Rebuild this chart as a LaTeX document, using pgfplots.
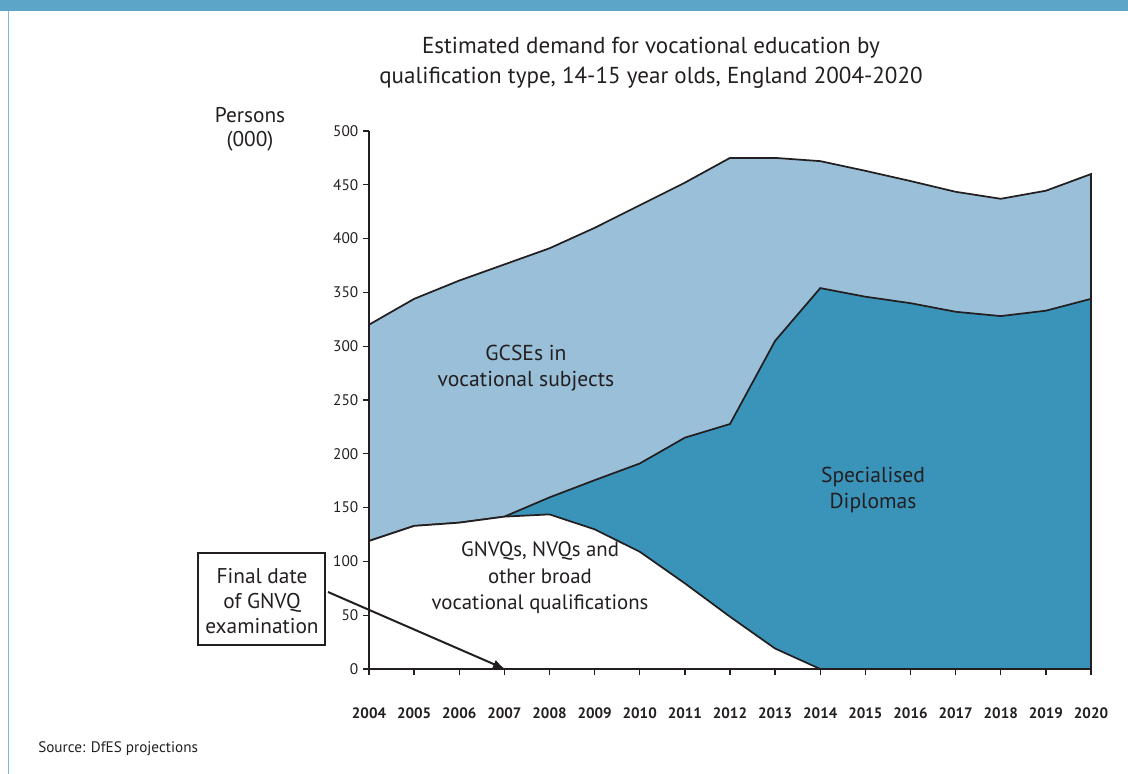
\documentclass[border=0pt]{standalone}
\usepackage{fontspec}
\setmainfont{PT Sans}
\usepackage{pgfplots}
\usetikzlibrary{arrows.meta}
\pgfplotsset{compat=1.18}
\definecolor{lightb}{HTML}{99C0D8}
\definecolor{darkb}{HTML}{3A94BA}
\definecolor{band}{HTML}{5CA5C8}
\definecolor{ink}{HTML}{231F20}
\begin{document}
\begin{tikzpicture}[x=0.75pt,y=-0.75pt]
\path[use as bounding box] (0,0) rectangle (1128,774);
\fill[band] (0,0) rectangle (1128,11);
\draw[band!80, line width=1.2pt] (8.5,11) -- (8.5,774);
\begin{axis}[
  scale only axis, width=541.5pt, height=403.5pt,
  anchor=south west, at={(276.75pt,-501.75pt)},
  xmin=2004, xmax=2020, ymin=0, ymax=500,
  axis x line*=bottom, axis y line*=left,
  axis line style={ink, line width=1.4pt},
  tick style={ink, line width=1pt},
  tick align=outside, major tick length=4.5pt,
  xtick={2004,2005,...,2020}, ytick={0,50,...,500},
  /pgf/number format/assume math mode=true,
  x tick label style={/pgf/number format/1000 sep={}, font=\fontsize{11.3}{13}\selectfont\bfseries, text=ink, anchor=center, yshift=-28.5pt},
  y tick label style={font=\fontsize{11.5}{13}\selectfont, text=ink},
  clip=false,
]
\addplot[fill=lightb, draw=ink, line width=1.3pt] coordinates {
(2004,320) (2005,344) (2006,361) (2007,376) (2008,391) (2009,410) (2010,431) (2011,452) (2012,475) (2013,475) (2014,472) (2015,463) (2016,453.5) (2017,443.5) (2018,437) (2019,444.5) (2020,460)} \closedcycle;
\addplot[fill=darkb, draw=ink, line width=1.3pt] coordinates {
(2004,119) (2005,133) (2006,136) (2007,141.6) (2008,159.5) (2009,175.5) (2010,191) (2011,215) (2012,227.7) (2013,305) (2014,354) (2015,346) (2016,340) (2017,332) (2018,328) (2019,333) (2020,344)} \closedcycle;
\addplot[fill=white, draw=ink, line width=1.3pt] coordinates {
(2004,119) (2005,133) (2006,136) (2007,141.6) (2008,143.7) (2009,129.8) (2010,109) (2011,79.6) (2012,48.6) (2013,19) (2014,0) (2015,0) (2016,0) (2017,0) (2018,0) (2019,0) (2020,0)} \closedcycle;
\end{axis}
\begin{scope}[every node/.style={text=ink, align=center, inner sep=0pt}]
\node[font=\fontsize{17.3}{22.5}\selectfont] at (651,63) {Estimated demand for vocational education by\\qualification type, 14-15 year olds, England 2004-2020};
\node[font=\fontsize{16}{18}\selectfont] at (250,129) {Persons\\(000)};
\node[font=\fontsize{16.2}{19.5}\selectfont] at (526,368) {GCSEs in\\vocational subjects};
\node[font=\fontsize{16.2}{19.5}\selectfont] at (873,490) {Specialised\\Diplomas};
\node[font=\fontsize{15.6}{19.8}\selectfont] at (540,578) {GNVQs, NVQs and\\other broad\\vocational qualifications};
\draw[ink, line width=1.8pt, fill=white] (198,553) rectangle (325,645);
\node[font=\fontsize{16}{18.75}\selectfont] at (262,601) {Final date\\of GNVQ\\examination};
\draw[ink, line width=1.5pt, -{Latex[length=9pt,width=7pt]}] (328,592) -- (505,669);
\node[font=\fontsize{11.4}{13}\selectfont, anchor=west] at (38,749) {Source: DfES projections};
\end{scope}
\end{tikzpicture}
\end{document}
